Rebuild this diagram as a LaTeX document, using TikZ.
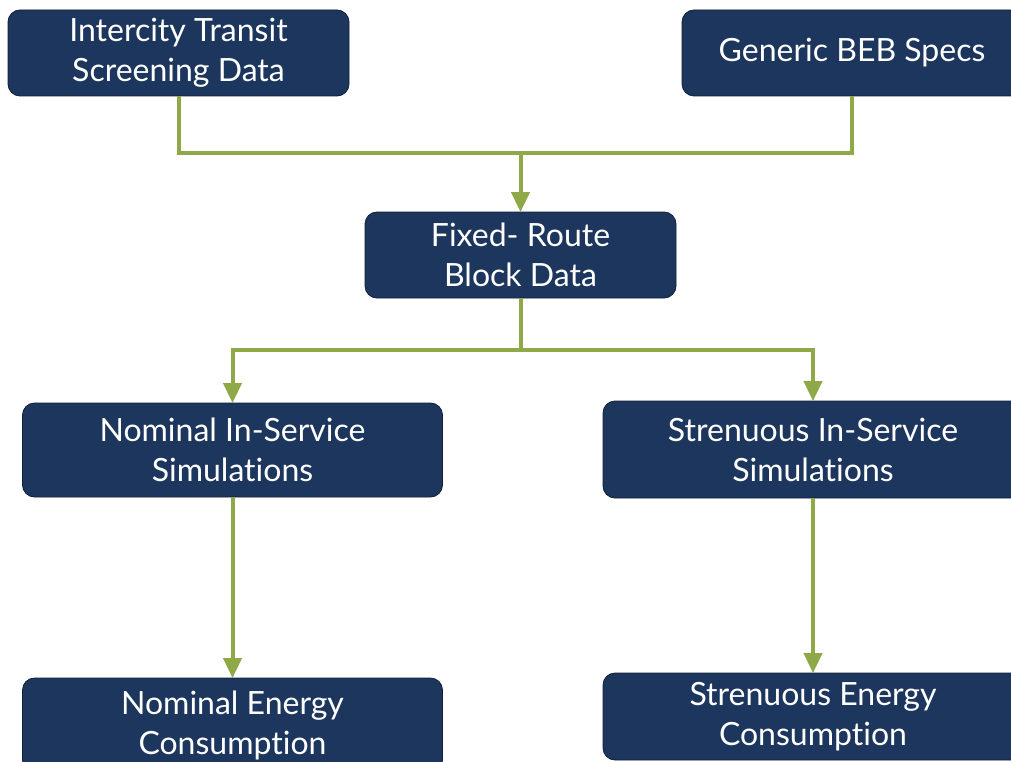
\documentclass[tikz,border=0pt]{standalone}
\usepackage{fontspec}
\setmainfont{Lato}[Ligatures=NoCommon]
\usetikzlibrary{arrows.meta}
\definecolor{navy}{RGB}{29,54,93}
\definecolor{navyedge}{RGB}{15,30,55}
\definecolor{olive}{RGB}{143,168,72}
\tikzset{
  box/.style={draw=navyedge, line width=0.8pt, fill=navy, rounded corners=12pt,
    text=white, align=center, inner sep=0pt,
    font=\fontsize{32}{40}\selectfont},
  link/.style={draw=olive, line width=4pt},
  arr/.style={link, -{Triangle[width=18pt,length=20pt]}, shorten >=-0.5pt},
}
\begin{document}
\begin{tikzpicture}[x=1pt,y=-1pt]
\useasboundingbox (0,0) rectangle (1011,762);
\clip (0,0) rectangle (1011,762);
\fill[white] (0,0) rectangle (1011,762);
\node[box, minimum width=341pt, minimum height=86pt] (b1) at (178.5,53) {Intercity Transit\\Screening Data};
\node[box, minimum width=340pt, minimum height=86pt] (b2) at (852,53) {Generic BEB Specs};
\node[box, minimum width=311pt, minimum height=86pt] (b3) at (520.5,255) {Fixed- Route\\Block Data};
\node[box, minimum width=420pt, minimum height=94pt] (b4) at (232.5,450) {Nominal In-Service\\Simulations};
\node[box, minimum width=420pt, minimum height=97pt] (b5) at (813,449.5) {Strenuous In-Service\\Simulations};
\node[box, minimum width=420pt, minimum height=94pt] (b6) at (232.5,725) {Nominal Energy\\Consumption};
\node[box, minimum width=420pt, minimum height=87pt] (b7) at (813,716.5) {Strenuous Energy\\Consumption};
\coordinate (j1) at (520.5,153);
\coordinate (j2) at (520.5,350);
\draw[link] (b1.south) |- (j1);
\draw[link] (b2.south) |- (j1);
\draw[arr] (j1) -- (b3.north);
\draw[link] (b3.south) -- (j2);
\draw[arr] (j2) -| (b4.north);
\draw[arr] (j2) -| (b5.north);
\draw[arr] (b4.south) -- (b6.north);
\draw[arr] (b5.south) -- (b7.north);
\end{tikzpicture}
\end{document}
